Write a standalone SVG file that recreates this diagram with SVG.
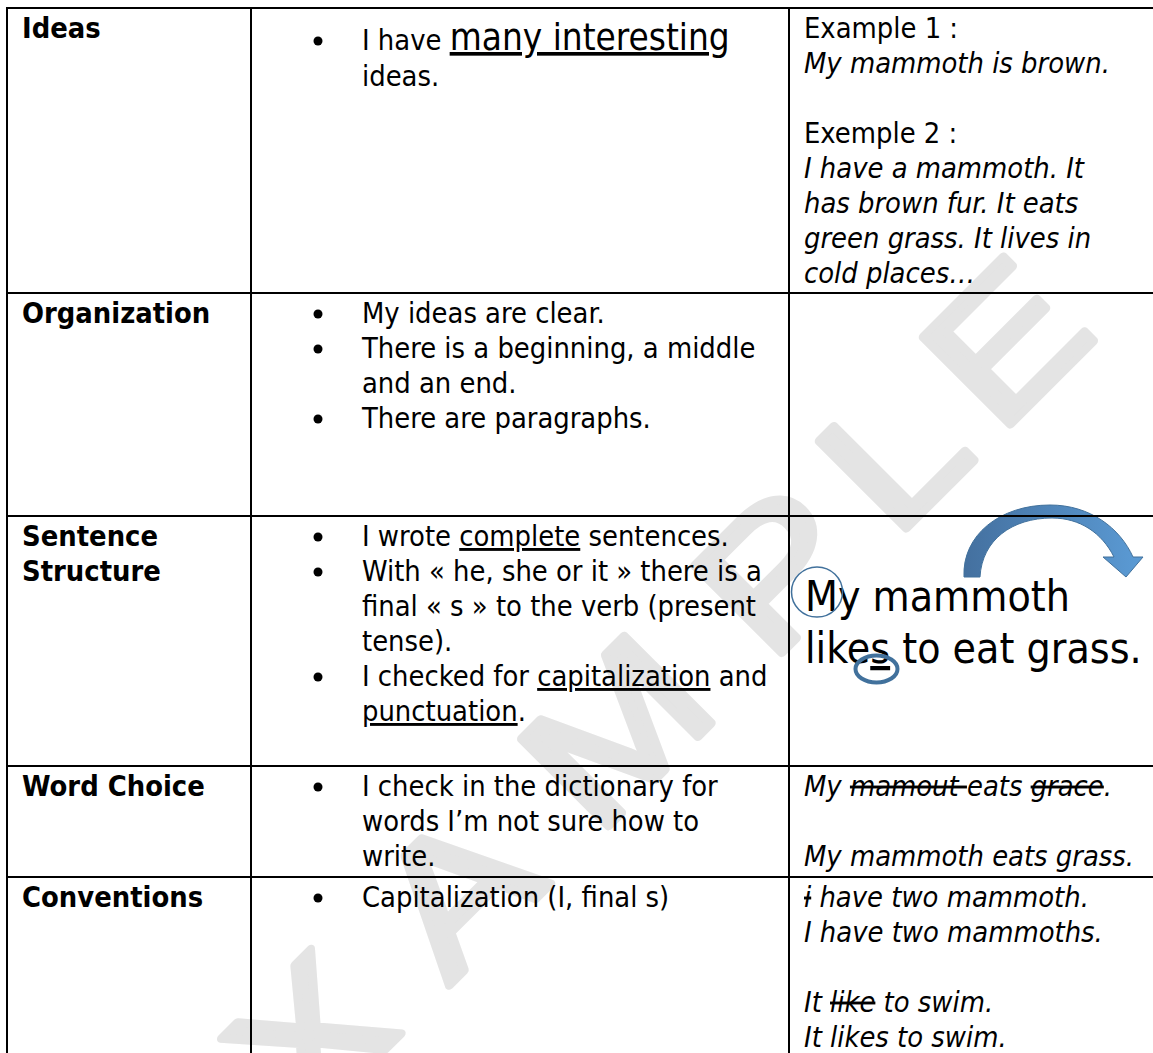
<svg xmlns="http://www.w3.org/2000/svg" width="1153" height="1053" viewBox="0 0 1153 1053">
<style>
.t{font-family:'DejaVu Sans Condensed','DejaVu Sans',sans-serif;font-stretch:condensed;font-size:28.8px;fill:#000}
.b{font-weight:bold}
.i{font-style:italic}
.u{text-decoration:underline}
.s{text-decoration:line-through}
.big{font-size:42.4px}
.mid{font-size:36.6px}
.wm{font-family:'Liberation Sans',Arial,sans-serif;font-size:180px;fill:#E4E4E4;stroke:#E4E4E4;stroke-width:8;stroke-linejoin:round}
.grid line{stroke:#000;stroke-width:2}
.dot{fill:#000}
</style>
<defs>
<linearGradient id="ag" gradientUnits="userSpaceOnUse" x1="964" y1="0" x2="1143" y2="0">
<stop offset="0" stop-color="#44709F"/>
<stop offset="1" stop-color="#5B9BD5"/>
</linearGradient>
</defs>
<rect width="1153" height="1053" fill="#fff"/>
<g id="watermark" transform="translate(717.5,717.5) rotate(-45)">
<text class="wm" transform="scale(1.2,1)"><tspan x="-651" y="0">E</tspan><tspan x="-489" y="0">X</tspan><tspan x="-316" y="0">A</tspan><tspan x="-142.5" y="0">M</tspan><tspan x="61.7" y="0">P</tspan><tspan x="208.3" y="0">L</tspan><tspan x="330.8" y="0">E</tspan></text>
</g>
<g id="annotations">
<path d="M964,577 C962,535 1000,505 1050,505 C1090,505 1120,528 1133,557 L1143,557 L1126,577 L1103,557 L1114,557 C1102,533 1080,518 1052,518 C1012,518 982,540 980,577 Z" fill="url(#ag)" stroke="#41719C" stroke-width="1"/>
</g>
<g class="grid" id="connectors">
<line x1="6" y1="8" x2="1153" y2="8"/>
<line x1="6" y1="293" x2="1153" y2="293"/>
<line x1="6" y1="516" x2="1153" y2="516"/>
<line x1="6" y1="766" x2="1153" y2="766"/>
<line x1="6" y1="877" x2="1153" y2="877"/>
<line x1="7" y1="7" x2="7" y2="1053"/>
<line x1="251" y1="7" x2="251" y2="1053"/>
<line x1="789" y1="7" x2="789" y2="1053"/>
</g>
<g id="row-ideas">
<text class="t b" x="22" y="38">Ideas</text>
<circle class="dot" cx="318" cy="41" r="4.5"/>
<text class="t" x="362" y="50">I have <tspan class="mid u">many interesting</tspan></text>
<text class="t" x="362" y="86">ideas.</text>
<text class="t" x="804" y="38">Example 1 :</text>
<text class="t i" x="804" y="73">My mammoth is brown.</text>
<text class="t" x="804" y="143">Exemple 2 :</text>
<text class="t i" x="804" y="178">I have a mammoth. It</text>
<text class="t i" x="804" y="213">has brown fur. It eats</text>
<text class="t i" x="804" y="248">green grass. It lives in</text>
<text class="t i" x="804" y="283">cold places…</text>
</g>
<g id="row-organization">
<text class="t b" x="22" y="323">Organization</text>
<circle class="dot" cx="318" cy="314" r="4.5"/>
<circle class="dot" cx="318" cy="349" r="4.5"/>
<circle class="dot" cx="318" cy="419" r="4.5"/>
<text class="t" x="362" y="323">My ideas are clear.</text>
<text class="t" x="362" y="358">There is a beginning, a middle</text>
<text class="t" x="362" y="393">and an end.</text>
<text class="t" x="362" y="428">There are paragraphs.</text>
</g>
<g id="row-sentence-structure">
<text class="t b" x="22" y="546">Sentence</text>
<text class="t b" x="22" y="581">Structure</text>
<circle class="dot" cx="318" cy="537" r="4.5"/>
<circle class="dot" cx="318" cy="572" r="4.5"/>
<circle class="dot" cx="318" cy="677" r="4.5"/>
<text class="t" x="362" y="546">I wrote <tspan class="u">complete</tspan> sentences.</text>
<text class="t" x="362" y="581">With « he, she or it » there is a</text>
<text class="t" x="362" y="616">final « s » to the verb (present</text>
<text class="t" x="362" y="651">tense).</text>
<text class="t" x="362" y="686">I checked for <tspan class="u">capitalization</tspan> and</text>
<text class="t" x="362" y="721"><tspan class="u">punctuation</tspan>.</text>
<text class="t big" x="805" y="611">My mammoth</text>
<text class="t big" x="805" y="663">like<tspan class="u">s</tspan> to eat grass.</text>
<ellipse cx="817" cy="592" rx="25.5" ry="25" fill="none" stroke="#41719C" stroke-width="1.5"/>
<ellipse cx="876.5" cy="669" rx="21" ry="13.5" fill="none" stroke="#41719C" stroke-width="4"/>
</g>
<g id="row-word-choice">
<text class="t b" x="22" y="796">Word Choice</text>
<circle class="dot" cx="318" cy="787" r="4.5"/>
<text class="t" x="362" y="796">I check in the dictionary for</text>
<text class="t" x="362" y="831">words I’m not sure how to</text>
<text class="t" x="362" y="866">write.</text>
<text class="t i" x="804" y="796">My <tspan class="s">mamout </tspan>eats <tspan class="s">grace</tspan>.</text>
<text class="t i" x="804" y="866">My mammoth eats grass.</text>
</g>
<g id="row-conventions">
<text class="t b" x="22" y="907">Conventions</text>
<circle class="dot" cx="318" cy="898" r="4.5"/>
<text class="t" x="362" y="907">Capitalization (I, final s)</text>
<text class="t i" x="804" y="907"><tspan class="s">i</tspan> have two mammoth.</text>
<text class="t i" x="804" y="942">I have two mammoths.</text>
<text class="t i" x="804" y="1012">It <tspan class="s">like</tspan> to swim.</text>
<text class="t i" x="804" y="1047">It likes to swim.</text>
</g>
</svg>
